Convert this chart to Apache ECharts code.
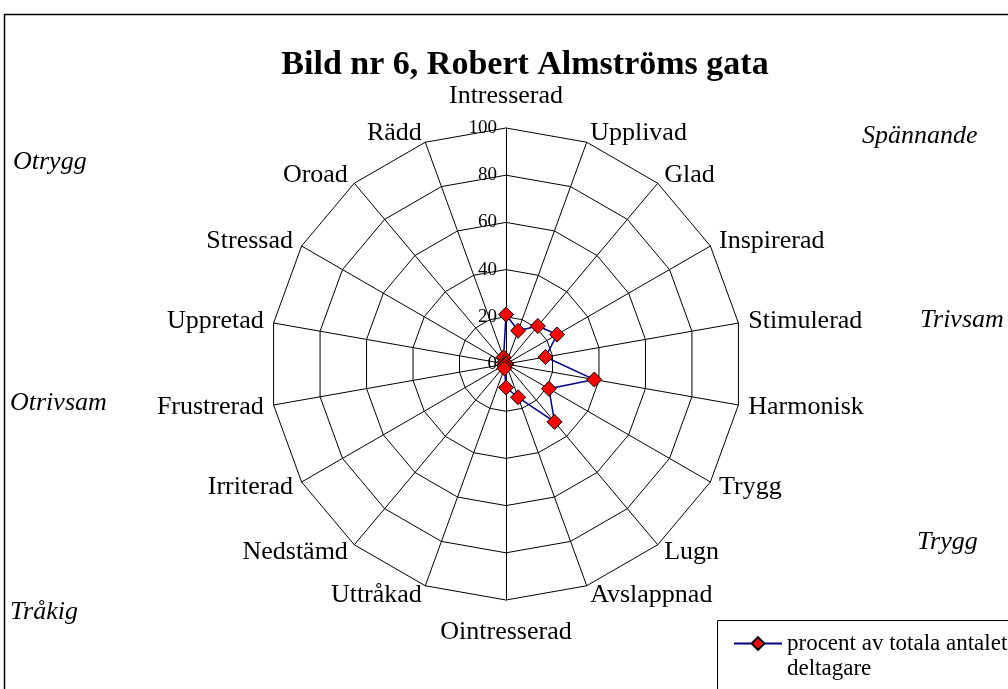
<!DOCTYPE html>
<html>
<head>
<meta charset="utf-8">
<script src="https://cdn.jsdelivr.net/npm/echarts@6/dist/echarts.min.js"></script>
<style>
html,body{margin:0;padding:0;background:#fff;}
#chart{width:1008px;height:689px;}
</style>
</head>
<body>
<div id="chart"></div>
<script>
// ---- data (clockwise from top) ----
const categories = ['Intresserad','Upplivad','Glad','Inspirerad','Stimulerad','Harmonisk','Trygg','Lugn','Avslappnad','Ointresserad','Uttråkad','Nedstämd','Irriterad','Frustrerad','Uppretad','Stressad','Oroad','Rädd'];
const values = [21,15,21,25,17,38,21,32,15,10,2,1,1,0,0,0,1,3];
const tickValues = [0,20,40,60,80,100];
const seriesName = 'procent av totala antalet\ndeltagare';
const titleText = 'Bild nr 6, Robert Almströms gata';
const cornerLabels = ['Otrygg','Spännande','Trivsam','Otrivsam','Trygg','Tråkig'];

const SERIF = '"Liberation Serif","Times New Roman",serif';
const n = categories.length;
// ECharts radar places indicators counter-clockwise; reorder so they read clockwise
const order = [0];
for (let i = n - 1; i >= 1; i--) order.push(i);
const indicator = order.map(function (i, k) {
  const ind = { name: categories[i], min: tickValues[0], max: tickValues[tickValues.length - 1] };
  ind.nameGap = (i === 0 || i * 2 === n) ? 19 : 10;
  if (k === 0) ind.axisLabel = { show: true };
  return ind;
});
const data = order.map(function (i) { return values[i]; });

const cornerPos = [
  [13, 162], [862, 136], [920, 320], [10, 403], [917, 542], [10, 612]
];

const markerStyle = { color: '#ff0000', borderColor: '#000', borderWidth: 1 };
const lineStyle = { color: '#000080', width: 1.5 };

const chart = echarts.init(document.getElementById('chart'), null, { renderer: 'canvas' });
chart.setOption({
  animation: false,
  backgroundColor: '#fff',
  title: {
    text: titleText,
    left: 520, top: 43, textAlign: 'center',
    textStyle: { fontFamily: SERIF, fontWeight: 'bold', fontSize: 34, color: '#000' }
  },
  grid: { show: false, left: 0, top: 0, width: 10, height: 10 },
  xAxis: { show: false, type: 'category', data: [] },
  yAxis: { show: false, type: 'value' },
  legend: {
    left: 733, top: 606,
    padding: 0,
    itemWidth: 48, itemHeight: 16,
    formatter: function (name) { return ' \n' + name; },
    textStyle: { fontFamily: SERIF, fontSize: 23, color: '#000', lineHeight: 25 },
    data: [seriesName]
  },
  radar: {
    center: [506, 364],
    radius: 236,
    startAngle: 90,
    shape: 'polygon',
    splitNumber: tickValues.length - 1,
    axisName: { color: '#000', fontFamily: SERIF, fontSize: 26 },
    axisLine: { show: true, lineStyle: { color: '#000', width: 1 } },
    splitLine: { show: true, lineStyle: { color: '#000', width: 1 } },
    splitArea: { show: false },
    axisTick: { show: false },
    axisLabel: { show: false, color: '#000', fontFamily: SERIF, fontSize: 19, margin: 9 },
    indicator: indicator
  },
  series: [{
    // legend carrier: draws the line + diamond legend key
    type: 'line',
    name: seriesName,
    data: [],
    symbol: 'diamond',
    symbolSize: 16,
    lineStyle: lineStyle,
    itemStyle: markerStyle
  }, {
    type: 'radar',
    name: seriesName,
    symbol: 'diamond',
    symbolSize: 15,
    lineStyle: lineStyle,
    itemStyle: markerStyle,
    data: [{ value: data, name: seriesName }]
  }],
  graphic: [
    { type: 'rect', z: -1, shape: { x: 4.5, y: 14.5, width: 1010, height: 700 }, style: { fill: 'none', stroke: '#000', lineWidth: 1.5 } },
    { type: 'rect', z: 10, shape: { x: 717.5, y: 620.5, width: 300, height: 100 }, style: { fill: 'none', stroke: '#000', lineWidth: 1 } }
  ].concat(cornerLabels.map(function (t, i) {
    return { type: 'text', x: cornerPos[i][0], y: cornerPos[i][1],
      style: { text: t, font: 'italic 26px ' + SERIF, fill: '#000', textVerticalAlign: 'middle', verticalAlign: 'middle' } };
  }))
});
</script>
</body>
</html>
